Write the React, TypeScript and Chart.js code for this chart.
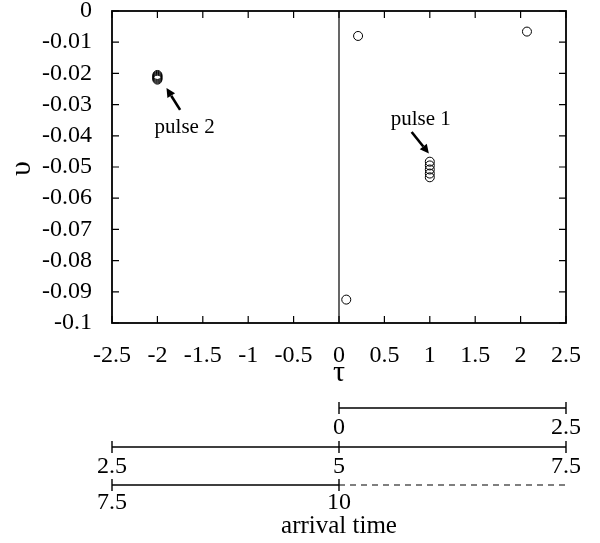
import React, { useEffect, useRef } from "react";
import { Chart, registerables } from "chart.js";

Chart.register(...registerables);

// ---- data ----
const xTicks = [-2.5, -2, -1.5, -1, -0.5, 0, 0.5, 1, 1.5, 2, 2.5];
const yTicks = [0, -0.01, -0.02, -0.03, -0.04, -0.05, -0.06, -0.07, -0.08, -0.09, -0.1];

const tauValues = [0.21, 2.07, 0.08, -2.0, -2.0, -2.0, -2.0, -2.0, -2.0, 1.0, 1.0, 1.0, 1.0, 1.0];
const upsValues = [-0.008, -0.0066, -0.0925, -0.0205, -0.0208, -0.0211, -0.0214, -0.0217, -0.022, -0.0483, -0.0495, -0.0508, -0.0521, -0.0533];

const annotationText = ["pulse 2", "pulse 1"];
const annotationTau = [-1.7, 0.9];
const annotationUps = [-0.0372, -0.0349];
const arrowFromTau = [-1.75, 0.8];
const arrowFromUps = [-0.0317, -0.0388];
const arrowToTau = [-1.9, 0.99];
const arrowToUps = [-0.0247, -0.0457];

// arrival-time rows: arrival = tau + offset
const arrivalOffset = [0, 5, 10];
const arrivalStart = [0, 2.5, 7.5];
const arrivalEnd = [2.5, 7.5, 10];
const arrivalTicks = [[0, 2.5], [2.5, 5, 7.5], [7.5, 10]];
const arrivalDashEnd = [null, null, 12.5];
const arrivalTitle = "arrival time";

const SERIF = "'Liberation Serif', 'DejaVu Serif', serif";

const decorPlugin = {
  id: "decor",
  afterDraw(chart: any) {
    const ctx = chart.ctx;
    const { left, right, top, bottom } = chart.chartArea;
    const xs = chart.scales.x;
    const ys = chart.scales.y;
    ctx.save();
    ctx.strokeStyle = "#000";
    ctx.fillStyle = "#000";
    // frame
    ctx.lineWidth = 1.8;
    ctx.strokeRect(left, top, right - left, bottom - top);
    // inward ticks
    ctx.lineWidth = 1.2;
    const tl = 7;
    ctx.beginPath();
    for (const v of xTicks) {
      const px = xs.getPixelForValue(v);
      ctx.moveTo(px, bottom);
      ctx.lineTo(px, bottom - tl);
      ctx.moveTo(px, top);
      ctx.lineTo(px, top + tl);
    }
    for (const v of yTicks) {
      const py = ys.getPixelForValue(v);
      ctx.moveTo(left, py);
      ctx.lineTo(left + tl, py);
      ctx.moveTo(right, py);
      ctx.lineTo(right - tl, py);
    }
    ctx.stroke();
    // zero line
    ctx.lineWidth = 1.2;
    ctx.beginPath();
    const x0 = xs.getPixelForValue(0);
    ctx.moveTo(x0, top);
    ctx.lineTo(x0, bottom);
    ctx.stroke();

    // annotations
    ctx.font = `21px ${SERIF}`;
    ctx.textAlign = "center";
    ctx.textBaseline = "middle";
    for (let i = 0; i < annotationText.length; i++) {
      ctx.fillText(annotationText[i], xs.getPixelForValue(annotationTau[i]), ys.getPixelForValue(annotationUps[i]));
      const fx = xs.getPixelForValue(arrowFromTau[i]);
      const fy = ys.getPixelForValue(arrowFromUps[i]);
      const tx = xs.getPixelForValue(arrowToTau[i]);
      const ty = ys.getPixelForValue(arrowToUps[i]);
      const ang = Math.atan2(ty - fy, tx - fx);
      const hl = 9;
      const hw = 4.5;
      const bx = tx - hl * Math.cos(ang);
      const by = ty - hl * Math.sin(ang);
      ctx.lineWidth = 2.6;
      ctx.beginPath();
      ctx.moveTo(fx, fy);
      ctx.lineTo(bx, by);
      ctx.stroke();
      ctx.beginPath();
      ctx.moveTo(tx, ty);
      ctx.lineTo(bx + hw * Math.sin(ang), by - hw * Math.cos(ang));
      ctx.lineTo(bx - hw * Math.sin(ang), by + hw * Math.cos(ang));
      ctx.closePath();
      ctx.fill();
    }

    // axis titles
    ctx.font = `30px ${SERIF}`;
    ctx.textAlign = "center";
    ctx.textBaseline = "middle";
    ctx.fillText("τ", x0, bottom + 50);
    ctx.save();
    ctx.translate(22, ys.getPixelForValue(-0.0505));
    ctx.rotate(-Math.PI / 2);
    ctx.fillText("υ", 0, 0);
    ctx.restore();

    // arrival time rows
    const rowY = [bottom + 85, bottom + 124, bottom + 162];
    const labY = [bottom + 105, bottom + 144, bottom + 180];
    ctx.font = `24px ${SERIF}`;
    ctx.textAlign = "center";
    ctx.textBaseline = "middle";
    for (let r = 0; r < arrivalOffset.length; r++) {
      const off = arrivalOffset[r];
      const y = rowY[r];
      const sx = xs.getPixelForValue(arrivalStart[r] - off);
      const ex = xs.getPixelForValue(arrivalEnd[r] - off);
      ctx.lineWidth = 1.4;
      ctx.setLineDash([]);
      ctx.beginPath();
      ctx.moveTo(sx, y);
      ctx.lineTo(ex, y);
      for (const t of arrivalTicks[r]) {
        const px = xs.getPixelForValue(t - off);
        ctx.moveTo(px, y - 6);
        ctx.lineTo(px, y + 6);
      }
      ctx.stroke();
      const de = arrivalDashEnd[r];
      if (de !== null) {
        ctx.setLineDash([6, 5]);
        ctx.lineWidth = 1.2;
        ctx.beginPath();
        ctx.moveTo(ex, y);
        ctx.lineTo(xs.getPixelForValue(de - off), y);
        ctx.stroke();
        ctx.setLineDash([]);
      }
      for (const t of arrivalTicks[r]) {
        ctx.fillText(String(t), xs.getPixelForValue(t - off), labY[r]);
      }
    }
    ctx.font = `25px ${SERIF}`;
    ctx.fillText(arrivalTitle, x0, bottom + 203);
    ctx.restore();
  },
};

export default function App() {
  const ref = useRef<HTMLCanvasElement | null>(null);
  useEffect(() => {
    if (!ref.current) return;
    const points = tauValues.map((t, i) => ({ x: t, y: upsValues[i] }));
    const zeroPad = (s: any) => {
      s.paddingTop = 0;
      s.paddingBottom = 0;
      s.paddingLeft = 0;
      s.paddingRight = 0;
    };
    const chart = new Chart(ref.current, {
      type: "scatter",
      data: {
        datasets: [
          {
            data: points,
            pointStyle: "circle",
            pointRadius: 4.5,
            pointBorderWidth: 1,
            borderColor: "#000",
            backgroundColor: "rgba(255,255,255,0)",
            pointHoverRadius: 4.5,
          },
        ],
      },
      options: {
        animation: false,
        responsive: true,
        maintainAspectRatio: false,
        layout: { padding: { top: 11, right: 34, left: 0, bottom: 0 } },
        plugins: { legend: { display: false }, tooltip: { enabled: false } },
        scales: {
          x: {
            type: "linear",
            min: -2.5,
            max: 2.5,
            afterBuildTicks: (s: any) => {
              s.ticks = xTicks.map((v) => ({ value: v }));
            },
            afterFit: (s: any) => {
              s.height = 220;
              zeroPad(s);
            },
            ticks: {
              autoSkip: false,
              maxRotation: 0,
              color: "#000",
              padding: 18,
              font: { family: SERIF, size: 24 },
              callback: (v: any) => String(v),
            },
            grid: { display: false, drawTicks: false },
            border: { display: false },
          },
          y: {
            type: "linear",
            min: -0.1,
            max: 0,
            afterBuildTicks: (s: any) => {
              s.ticks = yTicks.map((v) => ({ value: v }));
            },
            afterFit: (s: any) => {
              s.width = 112;
              zeroPad(s);
            },
            ticks: {
              autoSkip: false,
              color: "#000",
              padding: 20,
              font: { family: SERIF, size: 24 },
              callback: (v: any) => String(v),
            },
            grid: { display: false, drawTicks: false },
            border: { display: false },
          },
        },
      },
      plugins: [decorPlugin],
    } as any);
    return () => chart.destroy();
  }, []);
  return (
    <div style={{ position: "fixed", left: 0, top: 0, width: 600, height: 543, background: "#fff" }}>
      <canvas ref={ref} />
    </div>
  );
}
